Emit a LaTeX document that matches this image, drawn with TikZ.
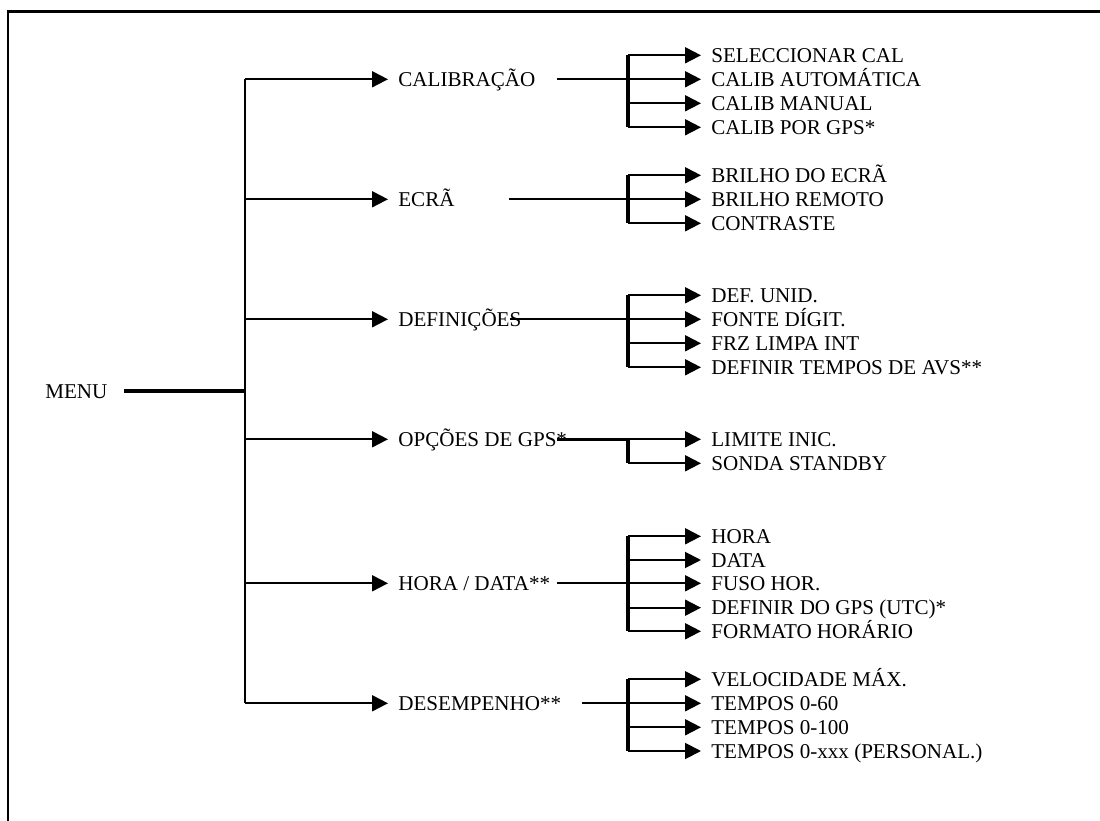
\documentclass[tikz,border=0pt]{standalone}
\usepackage{fontspec}
\setmainfont{Liberation Serif}
\usetikzlibrary{arrows.meta}

\begin{document}
\begin{tikzpicture}[
    x=0.02cm, y=-0.02cm,
    item/.style={
        anchor=west,
        inner xsep=0.2cm,
        inner ysep=0pt,
        text height=8pt,
        text depth=0pt,
        font=\fontsize{12}{14}\selectfont
    },
    link/.style={line width=1.1pt},
    trunk/.style={line width=1.8pt},
    arrow/.style={
        -{Triangle[length=9pt,width=9pt]},
        line width=1.1pt
    }
]
    \useasboundingbox (0,0) rectangle (1100,821);
    % frame, only its top and left edges are on the page
    \draw[line width=1.3pt] (8,821) -- (8,11.5) -- (1100,11.5);

    % main menu
    \node[item] (menu) at (35,391) {MENU};
    \node[item] (cal) at (388,79.3) {CALIBRAÇÃO};
    \node[item] (ecra) at (388,199.3) {ECRÃ};
    \node[item] (defs) at (388,319.3) {DEFINIÇÕES};
    \node[item] (gps) at (388,439.3) {OPÇÕES DE GPS*};
    \node[item] (hora) at (388,583.3) {HORA / DATA**};
    \node[item] (desemp) at (388,703.3) {DESEMPENHO**};

    \coordinate (menuA) at (124,391);
    \coordinate (mtop) at (245,79.3);
    \coordinate (mbot) at (245,703.3);
    \draw[line width=2pt] (menuA) -- (mtop|-menuA);
    \draw[link] (mtop) -- (mbot);
    \draw[arrow] (mtop) -- (cal);
    \draw[arrow] (mtop|-ecra) -- (ecra);
    \draw[arrow] (mtop|-defs) -- (defs);
    \draw[arrow] (mtop|-gps) -- (gps);
    \draw[arrow] (mtop|-hora) -- (hora);
    \draw[arrow] (mtop|-desemp) -- (desemp);

    % calibracao
    \node[item] (cal1) at (701,55.3) {SELECCIONAR CAL};
    \node[item] (cal2) at (701,79.3) {CALIB AUTOMÁTICA};
    \node[item] (cal3) at (701,103.3) {CALIB MANUAL};
    \node[item] (cal4) at (701,127.3) {CALIB POR GPS*};
    \coordinate (calA) at (557,79.3);
    \coordinate (calT) at (628,55.3);
    \coordinate (calB) at (628,127.3);
    \draw[link] (calA) -- (calT|-cal);
    \draw[trunk] (calT) -- (calB);
    \draw[arrow] (calT) -- (cal1);
    \draw[arrow] (calT|-cal2) -- (cal2);
    \draw[arrow] (calT|-cal3) -- (cal3);
    \draw[arrow] (calB) -- (cal4);

    % ecra
    \node[item] (ecra1) at (701,175.3) {BRILHO DO ECRÃ};
    \node[item] (ecra2) at (701,199.3) {BRILHO REMOTO};
    \node[item] (ecra3) at (701,223.3) {CONTRASTE};
    \coordinate (ecraA) at (509,199.3);
    \coordinate (ecraT) at (628,175.3);
    \coordinate (ecraB) at (628,223.3);
    \draw[link] (ecraA) -- (ecraT|-ecra);
    \draw[trunk] (ecraT) -- (ecraB);
    \draw[arrow] (ecraT) -- (ecra1);
    \draw[arrow] (ecraT|-ecra2) -- (ecra2);
    \draw[arrow] (ecraB) -- (ecra3);

    % definicoes
    \node[item] (def1) at (701,295.3) {DEF. UNID.};
    \node[item] (def2) at (701,319.3) {FONTE DÍGIT.};
    \node[item] (def3) at (701,343.3) {FRZ LIMPA INT};
    \node[item] (def4) at (701,367.3) {DEFINIR TEMPOS DE AVS**};
    \coordinate (defA) at (510,319.3);
    \coordinate (defT) at (628,295.3);
    \coordinate (defB) at (628,367.3);
    \draw[link] (defA) -- (defT|-defs);
    \draw[trunk] (defT) -- (defB);
    \draw[arrow] (defT) -- (def1);
    \draw[arrow] (defT|-def2) -- (def2);
    \draw[arrow] (defT|-def3) -- (def3);
    \draw[arrow] (defB) -- (def4);

    % opcoes de gps
    \node[item] (gps1) at (701,439.3) {LIMITE INIC.};
    \node[item] (gps2) at (701,463.3) {SONDA STANDBY};
    \coordinate (gpsA) at (557,439.3);
    \coordinate (gpsT) at (628,439.3);
    \coordinate (gpsB) at (628,463.3);
    \draw[line width=1.8pt] (gpsA) -- (gpsT);
    \draw[trunk] (gpsT) -- (gpsB);
    \draw[arrow] (gpsT) -- (gps1);
    \draw[arrow] (gpsB) -- (gps2);

    % hora / data
    \node[item] (hora1) at (701,536.3) {HORA};
    \node[item] (hora2) at (701,560) {DATA};
    \node[item] (hora3) at (701,583.3) {FUSO HOR.};
    \node[item] (hora4) at (701,607.7) {DEFINIR DO GPS (UTC)*};
    \node[item] (hora5) at (701,631.3) {FORMATO HORÁRIO};
    \coordinate (horaA) at (557,583.3);
    \coordinate (horaT) at (628,536.3);
    \coordinate (horaB) at (628,631.3);
    \draw[link] (horaA) -- (horaT|-hora);
    \draw[trunk] (horaT) -- (horaB);
    \draw[arrow] (horaT) -- (hora1);
    \draw[arrow] (horaT|-hora2) -- (hora2);
    \draw[arrow] (horaT|-hora3) -- (hora3);
    \draw[arrow] (horaT|-hora4) -- (hora4);
    \draw[arrow] (horaB) -- (hora5);

    % desempenho
    \node[item] (desemp1) at (701,679.3) {VELOCIDADE MÁX.};
    \node[item] (desemp2) at (701,703.3) {TEMPOS 0-60};
    \node[item] (desemp3) at (701,727.3) {TEMPOS 0-100};
    \node[item] (desemp4) at (701,751) {TEMPOS 0-xxx (PERSONAL.)};
    \coordinate (desempA) at (582,703.3);
    \coordinate (desempT) at (628,679.3);
    \coordinate (desempB) at (628,751);
    \draw[link] (desempA) -- (desempT|-desemp);
    \draw[trunk] (desempT) -- (desempB);
    \draw[arrow] (desempT) -- (desemp1);
    \draw[arrow] (desempT|-desemp2) -- (desemp2);
    \draw[arrow] (desempT|-desemp3) -- (desemp3);
    \draw[arrow] (desempB) -- (desemp4);
\end{tikzpicture}
\end{document}
